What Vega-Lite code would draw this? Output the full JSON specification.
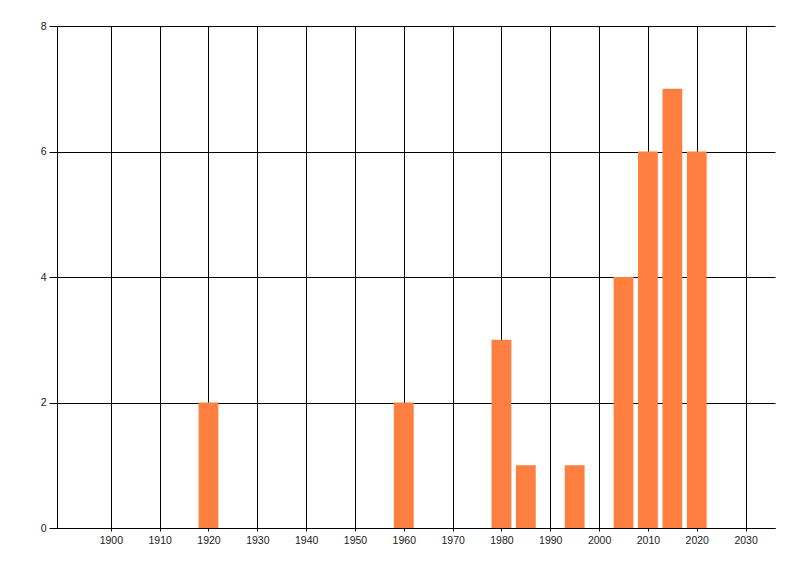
{
  "$schema": "https://vega.github.io/schema/vega-lite/v6.json",
  "autosize": "none",
  "padding": {"left": 57, "top": 26, "right": 25, "bottom": 48},
  "width": 718,
  "height": 502,
  "background": "white",
  "data": {
    "values": [
      {"year": 1920, "count": 2},
      {"year": 1960, "count": 2},
      {"year": 1980, "count": 3},
      {"year": 1985, "count": 1},
      {"year": 1995, "count": 1},
      {"year": 2005, "count": 4},
      {"year": 2010, "count": 6},
      {"year": 2015, "count": 7},
      {"year": 2020, "count": 6}
    ]
  },
  "mark": {"type": "bar", "width": 19.8, "color": "#FF7F40"},
  "encoding": {
    "x": {
      "field": "year",
      "type": "quantitative",
      "scale": {"domain": [1890, 2035], "nice": false, "zero": false},
      "axis": {
        "title": null,
        "values": [1900, 1910, 1920, 1930, 1940, 1950, 1960, 1970, 1980, 1990, 2000, 2010, 2020, 2030],
        "format": "d",
        "tickSize": 3,
        "labelPadding": 4
      }
    },
    "y": {
      "field": "count",
      "type": "quantitative",
      "scale": {"domain": [0, 8], "nice": false},
      "axis": {
        "title": null,
        "values": [0, 2, 4, 6, 8],
        "tickSize": 8,
        "labelPadding": 3
      }
    }
  },
  "config": {
    "view": {"stroke": null},
    "axis": {
      "grid": true,
      "gridColor": "black",
      "gridOpacity": 1,
      "gridWidth": 1,
      "domainColor": "black",
      "domainWidth": 1,
      "tickColor": "black",
      "tickWidth": 1,
      "labelColor": "#1a1a1a",
      "labelFont": "Liberation Sans",
      "labelFontSize": 10.5,
      "labelOverlap": false,
      "labelBound": false,
      "labelFlush": false
    }
  }
}
